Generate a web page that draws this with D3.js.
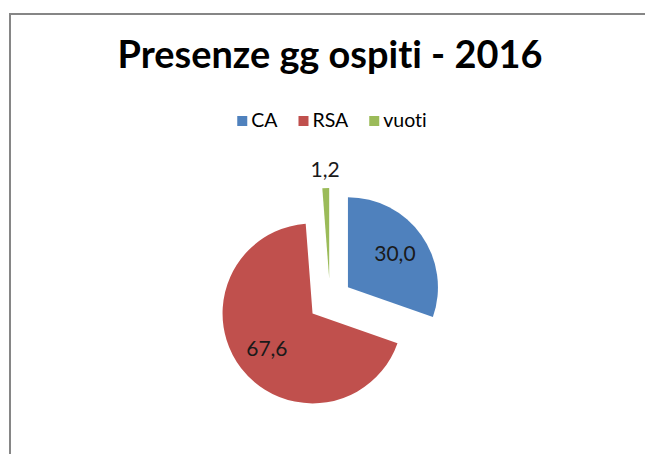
<!DOCTYPE html>
<html>
<head>
  <style>
    body { margin: 0; background: #fff; }
    svg text { font-family: Lato, "Open Sans", sans-serif; font-variant-ligatures: none; }
  </style>
  <script src="https://d3js.org/d3.v7.min.js"></script>
</head>
<body>
  <div id="chart"></div>
  <script>
    // chart data
    var categories = ["CA", "RSA", "vuoti"];
    var values = [30.0, 67.6, 1.2];
    var labels = ["30,0", "67,6", "1,2"];
    var colors = ["#4F81BD", "#C0504D", "#9BBB59"];
    var title = "Presenze gg ospiti - 2016";

    var W = 645, H = 454;
    var cx = 330, cy = 300, R = 90, explode = 22;

    var svg = d3.select("#chart").append("svg")
      .attr("width", W).attr("height", H);

    svg.append("rect").attr("width", W).attr("height", H).attr("fill", "#fff");

    // chart area frame (only top and left edges are visible in the crop)
    svg.append("path")
      .attr("d", "M10,460 L10,14 L650,14")
      .attr("fill", "none")
      .attr("stroke", "#868686")
      .attr("stroke-width", 2);

    // title, fitted to the width it has in the original
    var t = svg.append("text")
      .attr("x", 330).attr("y", 68)
      .attr("text-anchor", "middle")
      .attr("font-weight", "bold")
      .attr("font-size", 34)
      .attr("fill", "#000")
      .text(title);
    var tw = t.node().getComputedTextLength();
    t.attr("font-size", 34 * 425 / tw);

    // legend
    var legend = svg.append("g");
    var lx = 0;
    categories.forEach(function(c, i) {
      var g = legend.append("g").attr("transform", "translate(" + lx + ",0)");
      g.append("rect").attr("x", 0).attr("y", -11).attr("width", 10).attr("height", 10)
        .attr("fill", colors[i]);
      var tx = g.append("text").attr("x", 14).attr("y", 0)
        .attr("font-size", 19.5).attr("fill", "#000").text(c);
      lx += 14 + tx.node().getComputedTextLength() + 21;
    });
    var lw = lx - 21;
    legend.attr("transform", "translate(" + (332 - lw / 2) + ",127)");

    // pie, starting at 12 o'clock, every slice pulled out
    var pie = d3.pie().sort(null).value(function(d) { return d; });
    var arcs = pie(values);
    var arc = d3.arc().innerRadius(0).outerRadius(R);

    var slices = svg.append("g").attr("transform", "translate(" + cx + "," + cy + ")");
    arcs.forEach(function(a, i) {
      var mid = (a.startAngle + a.endAngle) / 2;
      var dx = Math.sin(mid) * explode, dy = -Math.cos(mid) * explode;
      var g = slices.append("g").attr("transform", "translate(" + dx + "," + dy + ")");
      g.append("path").attr("d", arc(a)).attr("fill", colors[i]);

      var lr = i === 2 ? R * 1.2 : R * 0.64;
      g.append("text")
        .attr("x", Math.sin(mid) * lr)
        .attr("y", -Math.cos(mid) * lr)
        .attr("text-anchor", "middle")
        .attr("dy", "0.35em")
        .attr("font-size", 21)
        .attr("fill", "#1a1a1a")
        .text(labels[i]);
    });
  </script>
</body>
</html>
